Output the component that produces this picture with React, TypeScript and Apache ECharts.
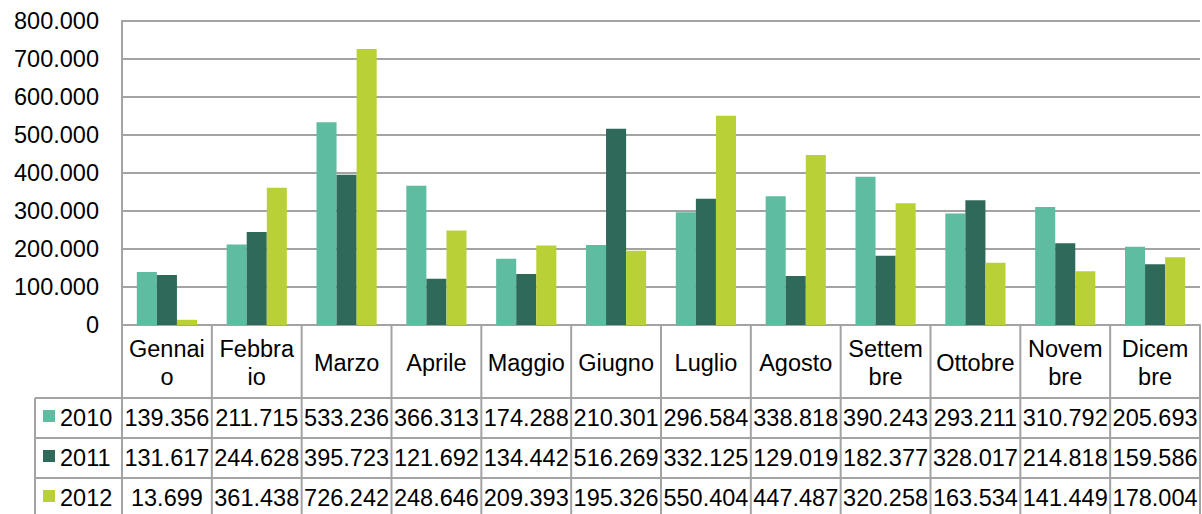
import React, { useEffect, useRef } from "react";
import * as echarts from "echarts";

const categories = ["Gennaio", "Febbraio", "Marzo", "Aprile", "Maggio", "Giugno", "Luglio", "Agosto", "Settembre", "Ottobre", "Novembre", "Dicembre"];
const categoryLabels = ["Gennai\no", "Febbra\nio", "Marzo", "Aprile", "Maggio", "Giugno", "Luglio", "Agosto", "Settem\nbre", "Ottobre", "Novem\nbre", "Dicem\nbre"];
const seriesNames = ["2010", "2011", "2012"];
const values2010 = [139356, 211715, 533236, 366313, 174288, 210301, 296584, 338818, 390243, 293211, 310792, 205693];
const values2011 = [131617, 244628, 395723, 121692, 134442, 516269, 332125, 129019, 182377, 328017, 214818, 159586];
const values2012 = [13699, 361438, 726242, 248646, 209393, 195326, 550404, 447487, 320258, 163534, 141449, 178004];
const colors = ["#5ebca0", "#2f6959", "#b9d136"];

const fmt = (v: number) => String(Math.round(v)).replace(/\B(?=(\d{3})+(?!\d))/g, ".");

const FONT = "Liberation Sans, Arial, sans-serif";
const FS = 23.5;
const LINE = "#a3a3a3";

export default function App() {
  const ref = useRef<HTMLDivElement>(null);
  useEffect(() => {
    const chart = echarts.init(ref.current!, null, { renderer: "svg" });
    const allSeries = [values2010, values2011, values2012];
    chart.setOption({
      animation: false,
      textStyle: { fontFamily: FONT },
      grid: { left: 122, right: 2, top: 21, bottom: 189, containLabel: false },
      xAxis: {
        type: "category",
        data: categories,
        axisLabel: { show: false },
        axisTick: { show: false },
        axisLine: { show: true, lineStyle: { color: LINE, width: 2 } },
      },
      yAxis: {
        type: "value",
        min: 0,
        max: 800000,
        interval: 100000,
        axisLine: { show: true, lineStyle: { color: LINE, width: 2 } },
        axisTick: { show: false },
        splitLine: { show: true, lineStyle: { color: LINE, width: 2 } },
        axisLabel: { formatter: (v: number) => fmt(v), color: "#000", fontSize: FS, fontFamily: FONT, margin: 23 },
      },
      series: allSeries.map((d, i) => ({
        type: "bar",
        name: seriesNames[i],
        data: d,
        barGap: "0%",
        barCategoryGap: "33%",
        itemStyle: { color: colors[i] },
      })),
    });

    // Build the data table under the axis from the chart's own scales
    const n = categories.length;
    const xs = categories.map((_, i) => chart.convertToPixel({ xAxisIndex: 0 }, i) as number);
    const colW = n > 1 ? xs[1] - xs[0] : 90;
    const bounds = [xs[0] - colW / 2, ...xs.map((x) => x + colW / 2)];
    const y0 = chart.convertToPixel({ yAxisIndex: 0 }, 0) as number;
    const headerBottom = y0 + 73;
    const rowH = 40;
    const tableLeft = 35;
    const tableBottom = 530;
    const g: any[] = [];
    const line = (x1: number, y1: number, x2: number, y2: number) =>
      g.push({ type: "line", silent: true, z: 10, shape: { x1, y1, x2, y2 }, style: { stroke: LINE, lineWidth: 2 } });
    bounds.forEach((b) => line(b, y0, b, tableBottom));
    line(tableLeft, headerBottom, bounds[bounds.length - 1], headerBottom);
    for (let r = 1; r < 3; r++) line(tableLeft, headerBottom + r * rowH, bounds[bounds.length - 1], headerBottom + r * rowH);
    line(tableLeft, headerBottom, tableLeft, tableBottom);
    categoryLabels.forEach((lab, i) => {
      g.push({
        type: "text", silent: true, z: 11, x: xs[i], y: (y0 + headerBottom) / 2 + 1,
        style: { text: lab, fill: "#000", font: `${FS}px ${FONT}`, textAlign: "center", textVerticalAlign: "middle", lineHeight: 28 },
      });
    });
    allSeries.forEach((d, r) => {
      const cy = headerBottom + r * rowH + rowH / 2;
      g.push({ type: "rect", silent: true, z: 11, shape: { x: 43, y: cy - 8, width: 12, height: 12 }, style: { fill: colors[r] } });
      g.push({
        type: "text", silent: true, z: 11, x: 60, y: cy,
        style: { text: seriesNames[r], fill: "#000", font: `${FS}px ${FONT}`, textAlign: "left", textVerticalAlign: "middle" },
      });
      d.forEach((v, i) => {
        g.push({
          type: "text", silent: true, z: 11, x: xs[i], y: cy,
          style: { text: fmt(v), fill: "#000", font: `${FS}px ${FONT}`, textAlign: "center", textVerticalAlign: "middle" },
        });
      });
    });
    chart.setOption({ graphic: g });
    return () => chart.dispose();
  }, []);
  return <div ref={ref} style={{ position: "absolute", left: 0, top: 0, width: 1202, height: 514 }} />;
}
